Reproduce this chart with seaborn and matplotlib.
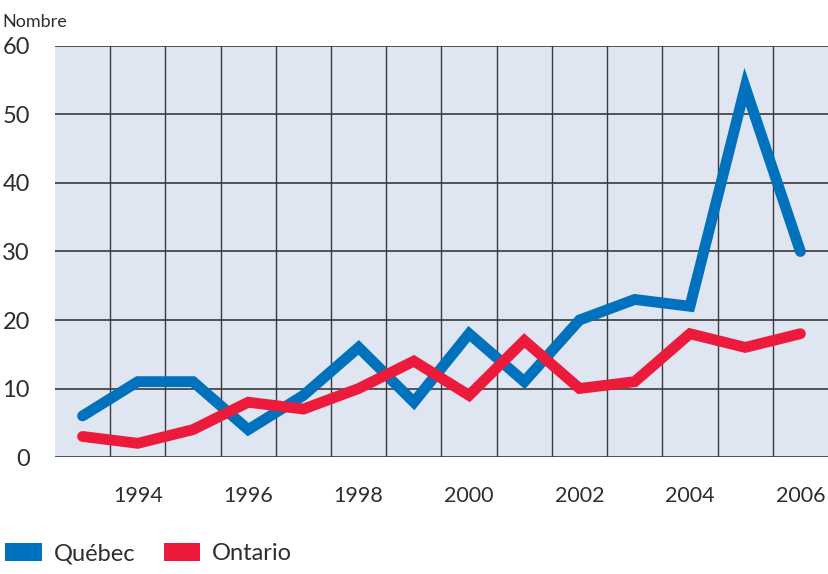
import numpy as np
import pandas as pd
import matplotlib.pyplot as plt
import seaborn as sns
from matplotlib.patches import Patch

years = list(range(1993, 2007))
quebec = [6, 11, 11, 4, 9, 16, 8, 18, 11, 20, 23, 22, 54, 30]
ontario = [3, 2, 4, 8, 7, 10, 14, 9, 17, 10, 11, 18, 16, 18]
series_names = ["Québec", "Ontario"]
series_colors = ["#0071bc", "#ec1b3b"]
y_ticks = [0, 10, 20, 30, 40, 50, 60]
x_labels = [1994, 1996, 1998, 2000, 2002, 2004, 2006]

df = pd.DataFrame({
    "annee": years * 2,
    "nombre": quebec + ontario,
    "region": [series_names[0]] * len(years) + [series_names[1]] * len(years),
})

sns.set_style("white")
plt.rcParams["font.family"] = ["Lato", "DejaVu Sans"]

fig = plt.figure(figsize=(8.29, 5.74), dpi=100)
ax = fig.add_axes([0.0663, 0.2038, 0.9325, 0.7161])
ax.set_facecolor("#dfe5f1")

grid_col = "#3a3a3a"
txt_col = "#2e2e2e"
ax.set_xlim(1992.5, 2006.5)
ax.set_ylim(0, 60)

# horizontal grid
ax.set_yticks(y_ticks)
ax.yaxis.grid(True, color=grid_col, linewidth=1.2)
# vertical grid at half years, ticks poking below the plot
ax.set_xticks(x_labels)
ax.set_xticks([y + 0.5 for y in years[:-1]], minor=True)
ax.xaxis.grid(True, which="minor", color=grid_col, linewidth=1.0)
ax.xaxis.grid(False, which="major")
ax.set_axisbelow(True)

sns.lineplot(data=df, x="annee", y="nombre", hue="region",
             palette=dict(zip(series_names, series_colors)),
             linewidth=7.8, ax=ax, legend=False)
for ln in ax.lines:
    ln.set_solid_capstyle("round")
    ln.set_solid_joinstyle("miter")

for s in ax.spines.values():
    s.set_visible(False)

ax.tick_params(axis="x", which="major", length=0, pad=21, labelsize=15.5, labelcolor=txt_col)
ax.tick_params(axis="x", which="minor", length=13, width=1.0, color=grid_col, direction="out")
ax.tick_params(axis="y", length=0, pad=18, labelsize=17, labelcolor=txt_col)
ax.set_xlabel("")
ax.set_ylabel("")

fig.text(0.003, 1 - 27 / 574, "Nombre", fontsize=13, color=txt_col, va="baseline")

handles = [Patch(facecolor=c, edgecolor="none") for c in series_colors]
fig.legend(handles, series_names, loc="lower left", bbox_to_anchor=(-0.019, -0.02),
           ncol=2, frameon=False, fontsize=17, handlelength=1.55, handleheight=0.85,
           handletextpad=0.5, columnspacing=1.2, labelcolor=txt_col)

fig.savefig("out.png", dpi=100)
